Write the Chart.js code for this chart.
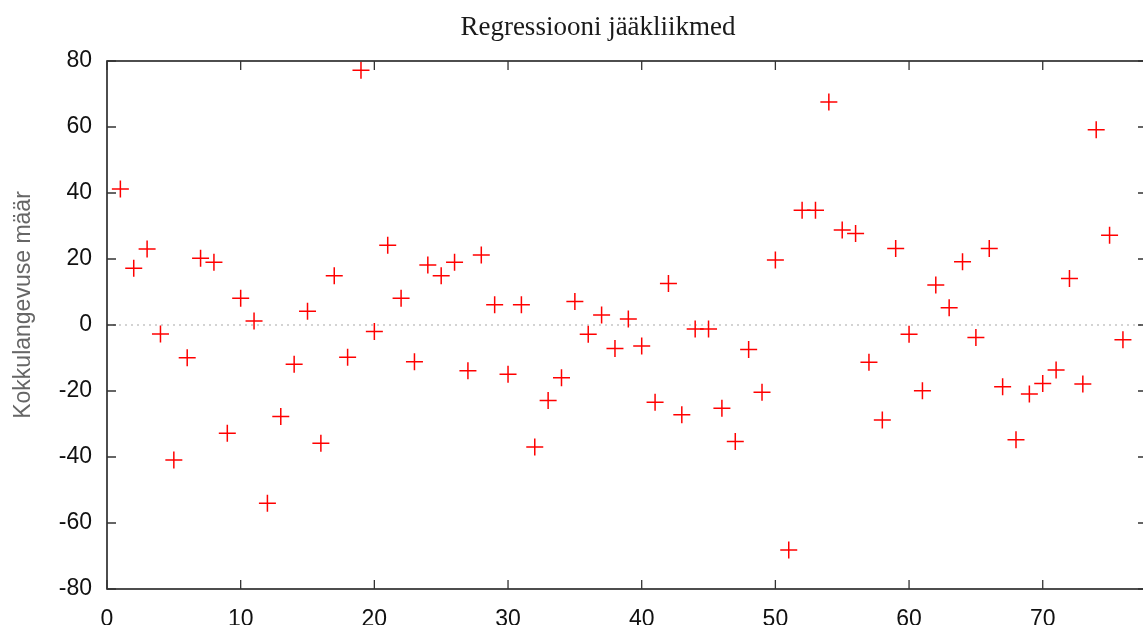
<!DOCTYPE html>
<html>
<head>
<meta charset="UTF-8">
<title>Regressiooni jääkliikmed</title>
<script src="https://cdn.jsdelivr.net/npm/chart.js@4.4.1/dist/chart.umd.min.js"></script>
<style>
    body { margin: 0; background: #fff; overflow: hidden; }
    #wrap { width: 1157px; height: 625px; }
</style>
</head>
<body>
<div id="wrap"><canvas id="myChart"></canvas></div>
<script>
// vaatluse järjekorranumber (x) ja jääkliige (y)
const obsIndex = [
    1, 2, 3, 4, 5, 6, 7, 8, 9, 10,
    11, 12, 13, 14, 15, 16, 17, 18, 19, 20,
    21, 22, 23, 24, 25, 26, 27, 28, 29, 30,
    31, 32, 33, 34, 35, 36, 37, 38, 39, 40,
    41, 42, 43, 44, 45, 46, 47, 48, 49, 50,
    51, 52, 53, 54, 55, 56, 57, 58, 59, 60,
    61, 62, 63, 64, 65, 66, 67, 68, 69, 70,
    71, 72, 73, 74, 75, 76
];
const residuals = [
    41.2, 17.2, 23, -2.7, -40.9, -9.9, 20.2, 19, -32.8, 8.1,
    1.2, -54, -27.7, -11.9, 4.2, -35.8, 14.9, -9.8, 77.2, -2,
    24.2, 8.1, -11.1, 18.2, 14.9, 19, -13.9, 21.2, 6.1, -14.9,
    6.1, -37, -22.9, -16, 7.1, -2.8, 3, -7.1, 1.8, -6.4,
    -23.4, 12.6, -27.2, -1.2, -1.2, -25.2, -35.3, -7.4, -20.4, 19.7,
    -68.2, 34.8, 34.8, 67.6, 28.8, 27.7, -11.3, -28.8, 23.2, -2.8,
    -19.9, 12.1, 5.2, 19.2, -3.8, 23.2, -18.7, -34.8, -20.9, -17.7,
    -13.6, 14.1, -17.9, 59.2, 27.2, -4.5
];
const xTicks = [0, 10, 20, 30, 40, 50, 60, 70];
const yTicks = [-80, -60, -40, -20, 0, 20, 40, 60, 80];

const chartTitle = 'Regressiooni jääkliikmed';
const yTitle = 'Kokkulangevuse määr';

// raam, sissepoole suunatud tick-id, punktiirne nulljoon ja pealkirjad (gnuplot stiil)
const framePlugin = {
    id: 'frame',
    beforeDatasetsDraw(chart) {
        const { ctx, chartArea: a, scales } = chart;
        const y0 = scales.y.getPixelForValue(0);
        ctx.save();
        ctx.strokeStyle = '#a8a8a8';
        ctx.lineWidth = 1.2;
        ctx.setLineDash([2, 4]);
        ctx.beginPath();
        ctx.moveTo(a.left, y0);
        ctx.lineTo(a.right, y0);
        ctx.stroke();
        ctx.restore();
    },
    afterDraw(chart) {
        const { ctx, chartArea: a, scales } = chart;
        const len = 9;
        ctx.save();
        ctx.strokeStyle = '#222';
        ctx.lineWidth = 1.6;
        ctx.strokeRect(a.left, a.top, a.right - a.left, a.bottom - a.top);
        ctx.lineWidth = 1.3;
        ctx.strokeStyle = '#333';
        ctx.beginPath();
        xTicks.forEach(v => {
            const px = scales.x.getPixelForValue(v);
            ctx.moveTo(px, a.bottom);
            ctx.lineTo(px, a.bottom - len);
            ctx.moveTo(px, a.top);
            ctx.lineTo(px, a.top + len);
        });
        yTicks.forEach(v => {
            const py = scales.y.getPixelForValue(v);
            ctx.moveTo(a.left, py);
            ctx.lineTo(a.left + len, py);
            ctx.moveTo(a.right, py);
            ctx.lineTo(a.right - len, py);
        });
        ctx.stroke();

        // pealkiri
        ctx.fillStyle = '#1a1a1a';
        ctx.font = '27px "Liberation Serif"';
        ctx.textAlign = 'center';
        ctx.textBaseline = 'middle';
        ctx.fillText(chartTitle, 598, 28);

        // y-telje nimi on originaalis veidi keskkohast ülevalpool
        ctx.translate(24, 305);
        ctx.rotate(-Math.PI / 2);
        ctx.fillStyle = '#666';
        ctx.font = '23px "Liberation Sans"';
        ctx.fillText(yTitle, 0, 0);
        ctx.restore();
    }
};

function drawResidualChart() {
    const points = obsIndex.map((x, i) => ({ x: x, y: residuals[i] }));

    const canvas = document.getElementById('myChart');
    new Chart(canvas, {
        type: 'scatter',
        data: {
            datasets: [{
                label: 'jääkliikmed',
                data: points,
                pointStyle: 'cross',
                pointRadius: 8.5,
                pointHoverRadius: 8.5,
                borderColor: 'rgb(255, 0, 0)',
                backgroundColor: 'rgb(255, 0, 0)',
                borderWidth: 1.5
            }]
        },
        options: {
            responsive: true,
            maintainAspectRatio: false,
            animation: false,
            layout: { padding: { left: 0, right: 8, top: 61, bottom: 0 } },
            plugins: {
                legend: { display: false },
                tooltip: { enabled: false },
                title: { display: false }
            },
            scales: {
                x: {
                    type: 'linear',
                    min: 0,
                    max: 77.8,
                    grid: { display: false, drawTicks: false },
                    border: { display: false },
                    ticks: {
                        stepSize: 10,
                        includeBounds: false,
                        padding: 17,
                        color: '#111',
                        font: { family: 'Liberation Sans', size: 23 }
                    },
                    afterFit(scale) { scale.height = 36; }
                },
                y: {
                    min: -80,
                    max: 80,
                    grid: { display: false, drawTicks: false },
                    border: { display: false },
                    ticks: {
                        stepSize: 20,
                        padding: 15,
                        color: '#111',
                        font: { family: 'Liberation Sans', size: 23 }
                    },
                    afterFit(scale) { scale.width = 107; }
                }
            }
        },
        plugins: [framePlugin]
    });
}

window.onload = function() {
    drawResidualChart();
};
</script>
</body>
</html>
